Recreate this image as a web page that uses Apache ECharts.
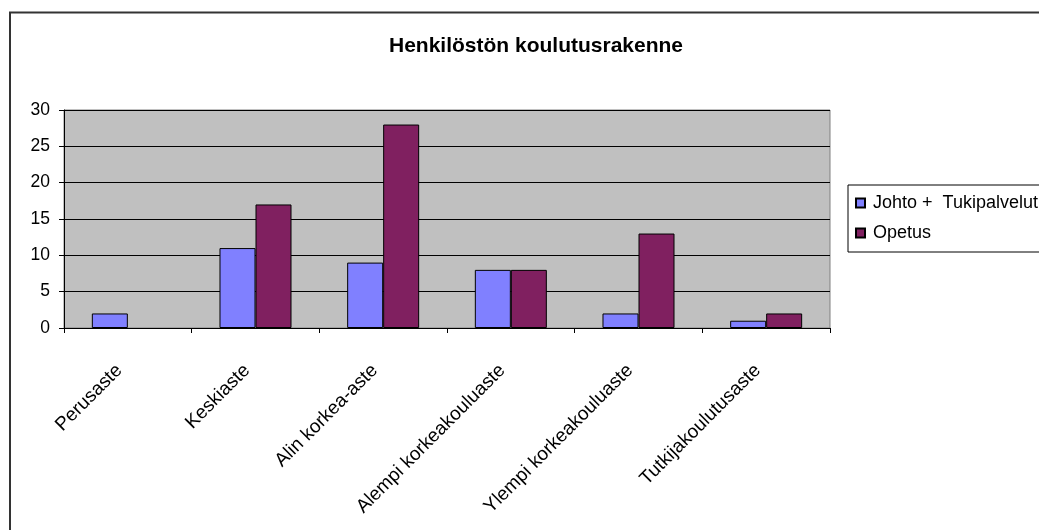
<!DOCTYPE html>
<html>
<head>
<meta charset="utf-8">
<script src="https://cdn.jsdelivr.net/npm/echarts@6/dist/echarts.min.js"></script>
<style>
html,body{margin:0;padding:0;background:#fff;}
#c{width:1039px;height:530px;}
</style>
</head>
<body>
<div id="c"></div>
<script>
const categories = ['Perusaste','Keskiaste','Alin korkea-aste','Alempi korkeakouluaste','Ylempi korkeakouluaste','Tutkijakoulutusaste'];
const johtoTuki = [2, 11, 9, 8, 2, 1];
const opetus = [null, 17, 28, 8, 13, 2];
const seriesNames = ['Johto +  Tukipalvelut', 'Opetus'];
const yTicks = {min: 0, max: 30, interval: 5};
const titleText = 'Henkilöstön koulutusrakenne';

const FONT = '"Liberation Sans", Arial, sans-serif';
const chart = echarts.init(document.getElementById('c'), null, {renderer: 'canvas'});
chart.setOption({
  animation: false,
  backgroundColor: '#fff',
  textStyle: {fontFamily: FONT},
  title: {
    text: titleText,
    left: 531, textAlign: 'center', top: 31,
    textStyle: {fontFamily: FONT, fontSize: 21, fontWeight: 'bold', color: '#000'}
  },
  legend: {
    orient: 'vertical',
    left: 848, top: 185,
    padding: [9, 30, 10, 7],
    itemGap: 12,
    itemWidth: 9, itemHeight: 9,
    icon: 'rect',
    borderColor: '#000', borderWidth: 1,
    textStyle: {fontFamily: FONT, fontSize: 18, color: '#000', lineHeight: 18, padding: [0,0,0,3]},
    data: seriesNames
  },
  grid: {
    left: 64, right: 209, top: 110, bottom: 202,
    show: true, backgroundColor: '#C0C0C0', borderColor: '#808080', borderWidth: 1,
    containLabel: false, outerBoundsMode: 'none'
  },
  xAxis: {
    type: 'category',
    data: categories,
    boundaryGap: true,
    axisLine: {show: true, lineStyle: {color: '#000', width: 1}},
    axisTick: {show: true, length: 5, alignWithLabel: false, lineStyle: {color: '#000'}},
    axisLabel: {interval: 0, rotate: 45, margin: 31, padding: [0, 12, 0, 0], fontFamily: FONT, fontSize: 19, color: '#000'},
    splitLine: {show: false}
  },
  yAxis: {
    type: 'value',
    min: yTicks.min, max: yTicks.max, interval: yTicks.interval,
    axisLine: {show: true, lineStyle: {color: '#000', width: 1}},
    axisTick: {show: true, length: 5, lineStyle: {color: '#000'}},
    axisLabel: {margin: 14, fontFamily: FONT, fontSize: 17.5, color: '#000'},
    splitLine: {show: true, lineStyle: {color: '#000', width: 1}}
  },
  series: [
    {name: seriesNames[0], type: 'bar', data: johtoTuki, barGap: '0%', barCategoryGap: '43.6%',
     itemStyle: {color: '#8080FF', borderColor: '#000', borderWidth: 1}},
    {name: seriesNames[1], type: 'bar', data: opetus, barGap: '0%', barCategoryGap: '43.6%',
     itemStyle: {color: '#802060', borderColor: '#000', borderWidth: 1}}
  ],
  graphic: [
    {type: 'polyline', silent: true, z: 100,
     shape: {points: [[10, 540], [10, 12.5], [1045, 12.5]]},
     style: {stroke: '#333', lineWidth: 2, fill: null}}
  ]
});
</script>
</body>
</html>
